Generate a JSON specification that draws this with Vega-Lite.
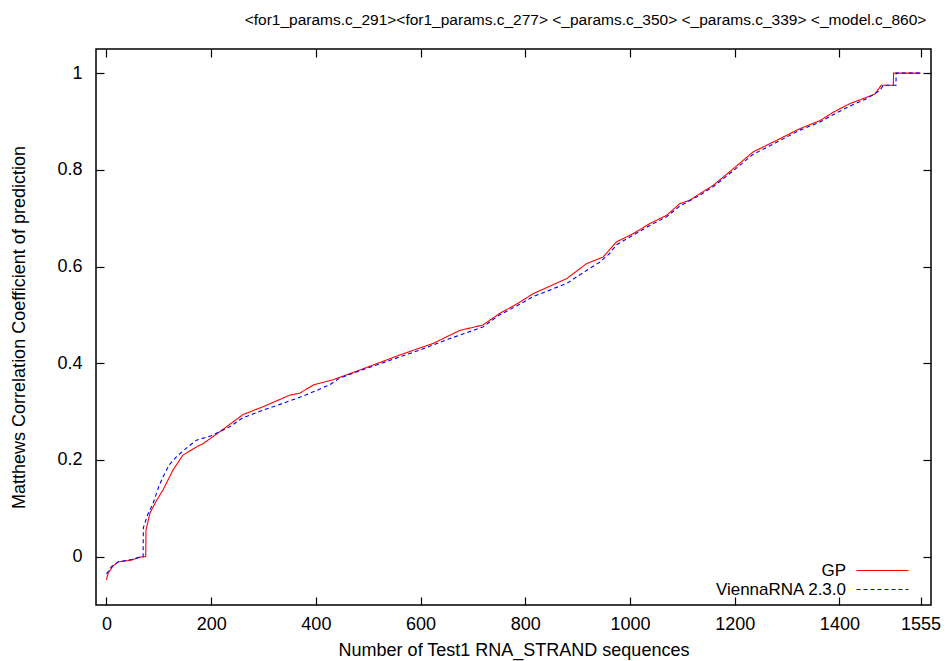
{
  "$schema": "https://vega.github.io/schema/vega-lite/v6.json",
  "width": 835,
  "height": 556,
  "autosize": "none",
  "padding": {"left": 96, "top": 49, "right": 16, "bottom": 56},
  "background": "white",
  "config": {
    "font": "Liberation Sans",
    "view": {"stroke": "black", "strokeWidth": 1.5},
    "axis": {"grid": false, "domain": false, "tickColor": "black", "labelColor": "black", "titleColor": "black", "labelFont": "Liberation Sans", "titleFont": "Liberation Sans", "titleFontWeight": "normal"}
  },
  "title": {
    "text": "<for1_params.c_291><for1_params.c_277> <_params.c_350> <_params.c_339> <_model.c_860>",
    "anchor": "middle",
    "dx": 72,
    "offset": 20,
    "fontSize": 15.5,
    "fontWeight": "normal",
    "font": "Liberation Sans",
    "color": "black"
  },
  "datasets": {
    "curves": [
      {"n": 0, "x": 0, "y": -0.048, "s": "GP"},
      {"n": 1, "x": 3, "y": -0.035, "s": "GP"},
      {"n": 2, "x": 12, "y": -0.02, "s": "GP"},
      {"n": 3, "x": 22, "y": -0.011, "s": "GP"},
      {"n": 4, "x": 48, "y": -0.007, "s": "GP"},
      {"n": 5, "x": 64, "y": -0.001, "s": "GP"},
      {"n": 6, "x": 75, "y": 0.0, "s": "GP"},
      {"n": 7, "x": 75.5, "y": 0.055, "s": "GP"},
      {"n": 8, "x": 83, "y": 0.09, "s": "GP"},
      {"n": 9, "x": 95, "y": 0.115, "s": "GP"},
      {"n": 10, "x": 108, "y": 0.138, "s": "GP"},
      {"n": 11, "x": 127, "y": 0.179, "s": "GP"},
      {"n": 12, "x": 146, "y": 0.21, "s": "GP"},
      {"n": 13, "x": 172, "y": 0.227, "s": "GP"},
      {"n": 14, "x": 185, "y": 0.234, "s": "GP"},
      {"n": 15, "x": 216, "y": 0.258, "s": "GP"},
      {"n": 16, "x": 261, "y": 0.294, "s": "GP"},
      {"n": 17, "x": 299, "y": 0.31, "s": "GP"},
      {"n": 18, "x": 350, "y": 0.334, "s": "GP"},
      {"n": 19, "x": 369, "y": 0.338, "s": "GP"},
      {"n": 20, "x": 395, "y": 0.355, "s": "GP"},
      {"n": 21, "x": 433, "y": 0.366, "s": "GP"},
      {"n": 22, "x": 484, "y": 0.386, "s": "GP"},
      {"n": 23, "x": 560, "y": 0.417, "s": "GP"},
      {"n": 24, "x": 624, "y": 0.441, "s": "GP"},
      {"n": 25, "x": 675, "y": 0.468, "s": "GP"},
      {"n": 26, "x": 719, "y": 0.479, "s": "GP"},
      {"n": 27, "x": 751, "y": 0.503, "s": "GP"},
      {"n": 28, "x": 786, "y": 0.524, "s": "GP"},
      {"n": 29, "x": 815, "y": 0.544, "s": "GP"},
      {"n": 30, "x": 879, "y": 0.575, "s": "GP"},
      {"n": 31, "x": 917, "y": 0.606, "s": "GP"},
      {"n": 32, "x": 949, "y": 0.62, "s": "GP"},
      {"n": 33, "x": 974, "y": 0.651, "s": "GP"},
      {"n": 34, "x": 1006, "y": 0.668, "s": "GP"},
      {"n": 35, "x": 1038, "y": 0.689, "s": "GP"},
      {"n": 36, "x": 1070, "y": 0.706, "s": "GP"},
      {"n": 37, "x": 1095, "y": 0.73, "s": "GP"},
      {"n": 38, "x": 1114, "y": 0.737, "s": "GP"},
      {"n": 39, "x": 1134, "y": 0.751, "s": "GP"},
      {"n": 40, "x": 1159, "y": 0.768, "s": "GP"},
      {"n": 41, "x": 1197, "y": 0.802, "s": "GP"},
      {"n": 42, "x": 1235, "y": 0.837, "s": "GP"},
      {"n": 43, "x": 1280, "y": 0.861, "s": "GP"},
      {"n": 44, "x": 1324, "y": 0.885, "s": "GP"},
      {"n": 45, "x": 1363, "y": 0.902, "s": "GP"},
      {"n": 46, "x": 1388, "y": 0.919, "s": "GP"},
      {"n": 47, "x": 1420, "y": 0.937, "s": "GP"},
      {"n": 48, "x": 1452, "y": 0.95, "s": "GP"},
      {"n": 49, "x": 1468, "y": 0.957, "s": "GP"},
      {"n": 50, "x": 1480, "y": 0.975, "s": "GP"},
      {"n": 51, "x": 1503, "y": 0.975, "s": "GP"},
      {"n": 52, "x": 1503.5, "y": 1.0, "s": "GP"},
      {"n": 53, "x": 1555, "y": 1.0, "s": "GP"},

      {"n": 0, "x": 0, "y": -0.036, "s": "ViennaRNA 2.3.0"},
      {"n": 1, "x": 10, "y": -0.02, "s": "ViennaRNA 2.3.0"},
      {"n": 2, "x": 22, "y": -0.011, "s": "ViennaRNA 2.3.0"},
      {"n": 3, "x": 48, "y": -0.006, "s": "ViennaRNA 2.3.0"},
      {"n": 4, "x": 64, "y": -0.001, "s": "ViennaRNA 2.3.0"},
      {"n": 5, "x": 70, "y": 0.0, "s": "ViennaRNA 2.3.0"},
      {"n": 6, "x": 70.5, "y": 0.06, "s": "ViennaRNA 2.3.0"},
      {"n": 7, "x": 78, "y": 0.085, "s": "ViennaRNA 2.3.0"},
      {"n": 8, "x": 89, "y": 0.11, "s": "ViennaRNA 2.3.0"},
      {"n": 9, "x": 100, "y": 0.145, "s": "ViennaRNA 2.3.0"},
      {"n": 10, "x": 108, "y": 0.165, "s": "ViennaRNA 2.3.0"},
      {"n": 11, "x": 120, "y": 0.19, "s": "ViennaRNA 2.3.0"},
      {"n": 12, "x": 134, "y": 0.207, "s": "ViennaRNA 2.3.0"},
      {"n": 13, "x": 150, "y": 0.222, "s": "ViennaRNA 2.3.0"},
      {"n": 14, "x": 172, "y": 0.241, "s": "ViennaRNA 2.3.0"},
      {"n": 15, "x": 200, "y": 0.25, "s": "ViennaRNA 2.3.0"},
      {"n": 16, "x": 236, "y": 0.269, "s": "ViennaRNA 2.3.0"},
      {"n": 17, "x": 260, "y": 0.287, "s": "ViennaRNA 2.3.0"},
      {"n": 18, "x": 299, "y": 0.303, "s": "ViennaRNA 2.3.0"},
      {"n": 19, "x": 363, "y": 0.327, "s": "ViennaRNA 2.3.0"},
      {"n": 20, "x": 400, "y": 0.343, "s": "ViennaRNA 2.3.0"},
      {"n": 21, "x": 427, "y": 0.356, "s": "ViennaRNA 2.3.0"},
      {"n": 22, "x": 445, "y": 0.369, "s": "ViennaRNA 2.3.0"},
      {"n": 23, "x": 480, "y": 0.383, "s": "ViennaRNA 2.3.0"},
      {"n": 24, "x": 560, "y": 0.413, "s": "ViennaRNA 2.3.0"},
      {"n": 25, "x": 600, "y": 0.428, "s": "ViennaRNA 2.3.0"},
      {"n": 26, "x": 656, "y": 0.451, "s": "ViennaRNA 2.3.0"},
      {"n": 27, "x": 719, "y": 0.475, "s": "ViennaRNA 2.3.0"},
      {"n": 28, "x": 751, "y": 0.5, "s": "ViennaRNA 2.3.0"},
      {"n": 29, "x": 786, "y": 0.52, "s": "ViennaRNA 2.3.0"},
      {"n": 30, "x": 815, "y": 0.538, "s": "ViennaRNA 2.3.0"},
      {"n": 31, "x": 879, "y": 0.565, "s": "ViennaRNA 2.3.0"},
      {"n": 32, "x": 917, "y": 0.592, "s": "ViennaRNA 2.3.0"},
      {"n": 33, "x": 942, "y": 0.609, "s": "ViennaRNA 2.3.0"},
      {"n": 34, "x": 961, "y": 0.627, "s": "ViennaRNA 2.3.0"},
      {"n": 35, "x": 974, "y": 0.645, "s": "ViennaRNA 2.3.0"},
      {"n": 36, "x": 1006, "y": 0.665, "s": "ViennaRNA 2.3.0"},
      {"n": 37, "x": 1038, "y": 0.685, "s": "ViennaRNA 2.3.0"},
      {"n": 38, "x": 1070, "y": 0.703, "s": "ViennaRNA 2.3.0"},
      {"n": 39, "x": 1095, "y": 0.725, "s": "ViennaRNA 2.3.0"},
      {"n": 40, "x": 1134, "y": 0.748, "s": "ViennaRNA 2.3.0"},
      {"n": 41, "x": 1159, "y": 0.765, "s": "ViennaRNA 2.3.0"},
      {"n": 42, "x": 1197, "y": 0.798, "s": "ViennaRNA 2.3.0"},
      {"n": 43, "x": 1235, "y": 0.832, "s": "ViennaRNA 2.3.0"},
      {"n": 44, "x": 1280, "y": 0.857, "s": "ViennaRNA 2.3.0"},
      {"n": 45, "x": 1324, "y": 0.882, "s": "ViennaRNA 2.3.0"},
      {"n": 46, "x": 1363, "y": 0.899, "s": "ViennaRNA 2.3.0"},
      {"n": 47, "x": 1388, "y": 0.914, "s": "ViennaRNA 2.3.0"},
      {"n": 48, "x": 1420, "y": 0.932, "s": "ViennaRNA 2.3.0"},
      {"n": 49, "x": 1452, "y": 0.947, "s": "ViennaRNA 2.3.0"},
      {"n": 50, "x": 1477, "y": 0.964, "s": "ViennaRNA 2.3.0"},
      {"n": 51, "x": 1484, "y": 0.975, "s": "ViennaRNA 2.3.0"},
      {"n": 52, "x": 1508, "y": 0.975, "s": "ViennaRNA 2.3.0"},
      {"n": 53, "x": 1508.5, "y": 1.0, "s": "ViennaRNA 2.3.0"},
      {"n": 54, "x": 1555, "y": 1.0, "s": "ViennaRNA 2.3.0"}
    ]
  },
  "data": {"name": "curves"},
  "layer": [
    {
      "mark": {"type": "line", "strokeWidth": 1.1},
      "encoding": {
        "x": {
          "field": "x", "type": "quantitative",
          "scale": {"domain": [-20, 1575], "nice": false, "zero": false},
          "axis": {
            "orient": "bottom",
            "values": [0, 200, 400, 600, 800, 1000, 1200, 1400, 1555],
            "format": "d",
            "tickSize": -8, "tickWidth": 1.2,
            "labelPadding": 18, "labelFontSize": 18,
            "title": "Number of Test1 RNA_STRAND sequences",
            "titleFontSize": 18, "titlePadding": 8
          }
        },
        "y": {
          "field": "y", "type": "quantitative",
          "scale": {"domain": [-0.1, 1.05], "nice": false, "zero": false},
          "axis": {
            "orient": "left",
            "values": [0, 0.2, 0.4, 0.6, 0.8, 1],
            "format": "~g",
            "tickSize": -8, "tickWidth": 1.2,
            "labelPadding": 22, "labelFontSize": 18,
            "title": "Matthews Correlation Coefficient of prediction",
            "titleFontSize": 18, "titlePadding": 28
          }
        },
        "order": {"field": "n", "type": "quantitative"},
        "color": {
          "field": "s", "type": "nominal",
          "scale": {"domain": ["GP", "ViennaRNA 2.3.0"], "range": ["#ff0000", "#0000ff"]},
          "legend": {
            "title": null,
            "orient": "none",
            "legendX": 778,
            "legendY": 513,
            "symbolType": "M-5,0L5,0",
            "symbolSize": 108,
            "symbolStrokeWidth": 1.2,
            "labelFontSize": 17,
            "labelAlign": "right",
            "labelOffset": -45,
            "rowPadding": 1,
            "labelColor": "black"
          }
        },
        "strokeDash": {
          "field": "s", "type": "nominal",
          "scale": {"domain": ["GP", "ViennaRNA 2.3.0"], "range": [[1, 0], [4, 3]]},
          "legend": {
            "title": null,
            "orient": "none",
            "legendX": 778,
            "legendY": 513,
            "symbolType": "M-5,0L5,0",
            "symbolSize": 108,
            "symbolStrokeWidth": 1.2,
            "labelFontSize": 17,
            "labelAlign": "right",
            "labelOffset": -45,
            "rowPadding": 1,
            "labelColor": "black"
          }
        }
      }
    },
    {
      "mark": {"type": "line", "opacity": 0},
      "encoding": {
        "x": {
          "field": "x", "type": "quantitative",
          "scale": {"domain": [-20, 1575], "nice": false, "zero": false},
          "axis": {"orient": "top", "values": [0, 200, 400, 600, 800, 1000, 1200, 1400, 1555], "labels": false, "tickSize": -8, "tickWidth": 1.2, "title": null}
        },
        "y": {
          "field": "y", "type": "quantitative",
          "scale": {"domain": [-0.1, 1.05], "nice": false, "zero": false},
          "axis": {"orient": "right", "values": [0, 0.2, 0.4, 0.6, 0.8, 1], "labels": false, "tickSize": -8, "tickWidth": 1.2, "title": null}
        },
        "detail": {"field": "s", "type": "nominal"}
      }
    }
  ],
  "resolve": {"axis": {"x": "independent", "y": "independent"}}
}
